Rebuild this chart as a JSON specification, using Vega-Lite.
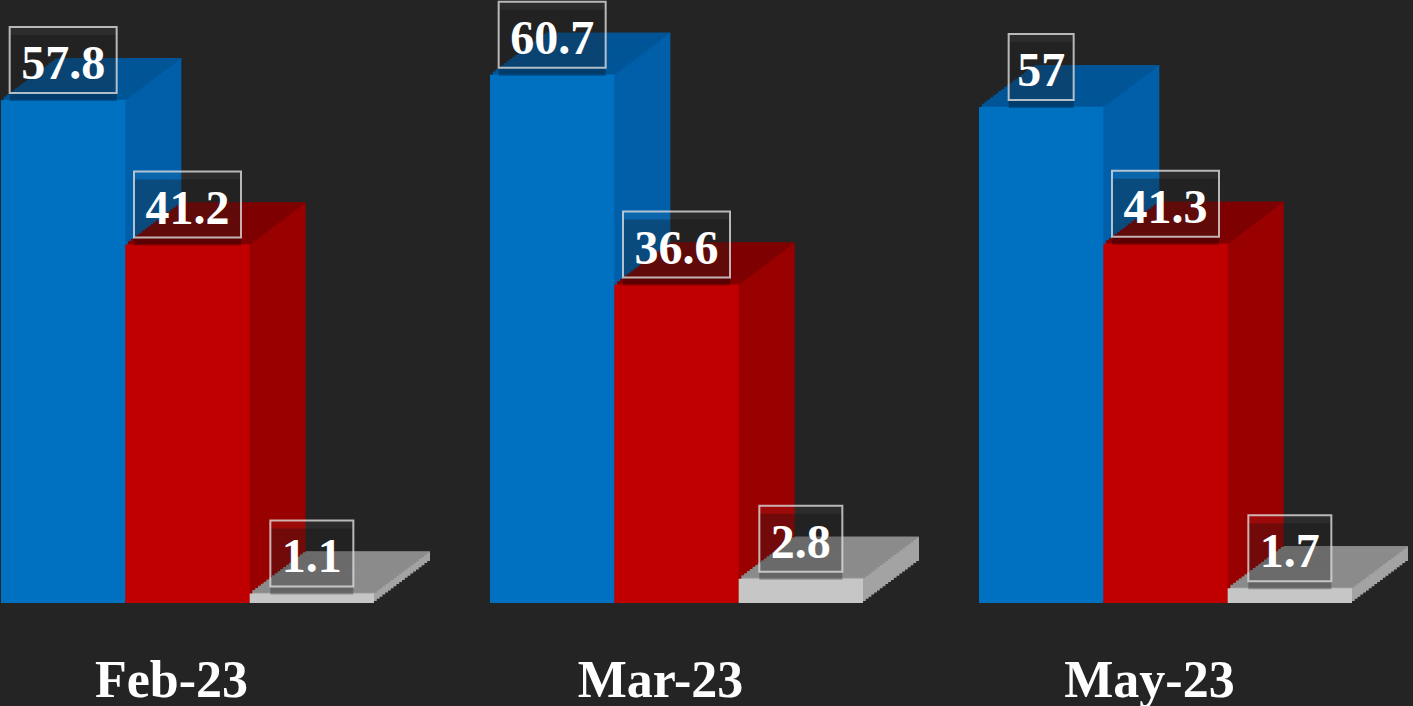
{
  "$schema": "https://vega.github.io/schema/vega-lite/v6.json",
  "width": 1413,
  "height": 603,
  "autosize": {"type": "none"},
  "padding": {"left": 0, "right": 0, "top": 0, "bottom": 103},
  "background": "#242424",
  "config": {"view": {"stroke": null}},
  "data": {
    "values": [
      {"month": "Feb-23", "series": "Series 1", "value": 57.8},
      {"month": "Feb-23", "series": "Series 2", "value": 41.2},
      {"month": "Feb-23", "series": "Series 3", "value": 1.1},
      {"month": "Mar-23", "series": "Series 1", "value": 60.7},
      {"month": "Mar-23", "series": "Series 2", "value": 36.6},
      {"month": "Mar-23", "series": "Series 3", "value": 2.8},
      {"month": "May-23", "series": "Series 1", "value": 57},
      {"month": "May-23", "series": "Series 2", "value": 41.3},
      {"month": "May-23", "series": "Series 3", "value": 1.7}
    ]
  },
  "encoding": {
    "x": {"field": "month", "type": "nominal", "scale": {"range": [1, 1352], "paddingInner": 0.2372, "paddingOuter": 0}, "axis": {"title": null, "domain": false, "ticks": false, "grid": false, "labelAngle": 0, "labelFont": "Liberation Serif", "labelFontSize": 52, "labelFontWeight": "bold", "labelColor": "#ffffff", "labelPadding": 93, "labelBaseline": "alphabetic", "labelOffset": -16}},
    "xOffset": {"field": "series", "type": "nominal", "scale": {"paddingInner": 0, "paddingOuter": 0}},
    "y": {"field": "value", "type": "quantitative", "scale": {"domain": [0, 69.3], "nice": false}, "axis": null}
  },
  "resolve": {"scale": {"color": "independent", "xOffset": "independent"}},
  "layer": [
    {"mark": {"type": "bar", "yOffset": -42, "y2Offset": -42}, "encoding": {"xOffset": {"field": "series", "type": "nominal", "scale": {"range": [56, 429], "paddingInner": 0, "paddingOuter": 0}}, "color": {"field": "series", "type": "nominal", "scale": {"range": ["#005fa8", "#990000", "#a3a3a3"]}, "legend": null}}},
    {"mark": {"type": "bar", "yOffset": -39.9, "y2Offset": -39.9}, "encoding": {"xOffset": {"field": "series", "type": "nominal", "scale": {"range": [53.2, 426.2], "paddingInner": 0, "paddingOuter": 0}}, "color": {"field": "series", "type": "nominal", "scale": {"range": ["#005fa8", "#990000", "#a3a3a3"]}, "legend": null}}},
    {"mark": {"type": "bar", "yOffset": -37.8, "y2Offset": -37.8}, "encoding": {"xOffset": {"field": "series", "type": "nominal", "scale": {"range": [50.4, 423.4], "paddingInner": 0, "paddingOuter": 0}}, "color": {"field": "series", "type": "nominal", "scale": {"range": ["#005fa8", "#990000", "#a3a3a3"]}, "legend": null}}},
    {"mark": {"type": "bar", "yOffset": -35.7, "y2Offset": -35.7}, "encoding": {"xOffset": {"field": "series", "type": "nominal", "scale": {"range": [47.6, 420.6], "paddingInner": 0, "paddingOuter": 0}}, "color": {"field": "series", "type": "nominal", "scale": {"range": ["#005fa8", "#990000", "#a3a3a3"]}, "legend": null}}},
    {"mark": {"type": "bar", "yOffset": -33.6, "y2Offset": -33.6}, "encoding": {"xOffset": {"field": "series", "type": "nominal", "scale": {"range": [44.8, 417.8], "paddingInner": 0, "paddingOuter": 0}}, "color": {"field": "series", "type": "nominal", "scale": {"range": ["#005fa8", "#990000", "#a3a3a3"]}, "legend": null}}},
    {"mark": {"type": "bar", "yOffset": -31.5, "y2Offset": -31.5}, "encoding": {"xOffset": {"field": "series", "type": "nominal", "scale": {"range": [42, 415], "paddingInner": 0, "paddingOuter": 0}}, "color": {"field": "series", "type": "nominal", "scale": {"range": ["#005fa8", "#990000", "#a3a3a3"]}, "legend": null}}},
    {"mark": {"type": "bar", "yOffset": -29.4, "y2Offset": -29.4}, "encoding": {"xOffset": {"field": "series", "type": "nominal", "scale": {"range": [39.2, 412.2], "paddingInner": 0, "paddingOuter": 0}}, "color": {"field": "series", "type": "nominal", "scale": {"range": ["#005fa8", "#990000", "#a3a3a3"]}, "legend": null}}},
    {"mark": {"type": "bar", "yOffset": -27.3, "y2Offset": -27.3}, "encoding": {"xOffset": {"field": "series", "type": "nominal", "scale": {"range": [36.4, 409.4], "paddingInner": 0, "paddingOuter": 0}}, "color": {"field": "series", "type": "nominal", "scale": {"range": ["#005fa8", "#990000", "#a3a3a3"]}, "legend": null}}},
    {"mark": {"type": "bar", "yOffset": -25.2, "y2Offset": -25.2}, "encoding": {"xOffset": {"field": "series", "type": "nominal", "scale": {"range": [33.6, 406.6], "paddingInner": 0, "paddingOuter": 0}}, "color": {"field": "series", "type": "nominal", "scale": {"range": ["#005fa8", "#990000", "#a3a3a3"]}, "legend": null}}},
    {"mark": {"type": "bar", "yOffset": -23.1, "y2Offset": -23.1}, "encoding": {"xOffset": {"field": "series", "type": "nominal", "scale": {"range": [30.8, 403.8], "paddingInner": 0, "paddingOuter": 0}}, "color": {"field": "series", "type": "nominal", "scale": {"range": ["#005fa8", "#990000", "#a3a3a3"]}, "legend": null}}},
    {"mark": {"type": "bar", "yOffset": -21, "y2Offset": -21}, "encoding": {"xOffset": {"field": "series", "type": "nominal", "scale": {"range": [28, 401], "paddingInner": 0, "paddingOuter": 0}}, "color": {"field": "series", "type": "nominal", "scale": {"range": ["#005fa8", "#990000", "#a3a3a3"]}, "legend": null}}},
    {"mark": {"type": "bar", "yOffset": -18.9, "y2Offset": -18.9}, "encoding": {"xOffset": {"field": "series", "type": "nominal", "scale": {"range": [25.2, 398.2], "paddingInner": 0, "paddingOuter": 0}}, "color": {"field": "series", "type": "nominal", "scale": {"range": ["#005fa8", "#990000", "#a3a3a3"]}, "legend": null}}},
    {"mark": {"type": "bar", "yOffset": -16.8, "y2Offset": -16.8}, "encoding": {"xOffset": {"field": "series", "type": "nominal", "scale": {"range": [22.4, 395.4], "paddingInner": 0, "paddingOuter": 0}}, "color": {"field": "series", "type": "nominal", "scale": {"range": ["#005fa8", "#990000", "#a3a3a3"]}, "legend": null}}},
    {"mark": {"type": "bar", "yOffset": -14.7, "y2Offset": -14.7}, "encoding": {"xOffset": {"field": "series", "type": "nominal", "scale": {"range": [19.6, 392.6], "paddingInner": 0, "paddingOuter": 0}}, "color": {"field": "series", "type": "nominal", "scale": {"range": ["#005fa8", "#990000", "#a3a3a3"]}, "legend": null}}},
    {"mark": {"type": "bar", "yOffset": -12.6, "y2Offset": -12.6}, "encoding": {"xOffset": {"field": "series", "type": "nominal", "scale": {"range": [16.8, 389.8], "paddingInner": 0, "paddingOuter": 0}}, "color": {"field": "series", "type": "nominal", "scale": {"range": ["#005fa8", "#990000", "#a3a3a3"]}, "legend": null}}},
    {"mark": {"type": "bar", "yOffset": -10.5, "y2Offset": -10.5}, "encoding": {"xOffset": {"field": "series", "type": "nominal", "scale": {"range": [14, 387], "paddingInner": 0, "paddingOuter": 0}}, "color": {"field": "series", "type": "nominal", "scale": {"range": ["#005fa8", "#990000", "#a3a3a3"]}, "legend": null}}},
    {"mark": {"type": "bar", "yOffset": -8.4, "y2Offset": -8.4}, "encoding": {"xOffset": {"field": "series", "type": "nominal", "scale": {"range": [11.2, 384.2], "paddingInner": 0, "paddingOuter": 0}}, "color": {"field": "series", "type": "nominal", "scale": {"range": ["#005fa8", "#990000", "#a3a3a3"]}, "legend": null}}},
    {"mark": {"type": "bar", "yOffset": -6.3, "y2Offset": -6.3}, "encoding": {"xOffset": {"field": "series", "type": "nominal", "scale": {"range": [8.4, 381.4], "paddingInner": 0, "paddingOuter": 0}}, "color": {"field": "series", "type": "nominal", "scale": {"range": ["#005fa8", "#990000", "#a3a3a3"]}, "legend": null}}},
    {"mark": {"type": "bar", "yOffset": -4.2, "y2Offset": -4.2}, "encoding": {"xOffset": {"field": "series", "type": "nominal", "scale": {"range": [5.6, 378.6], "paddingInner": 0, "paddingOuter": 0}}, "color": {"field": "series", "type": "nominal", "scale": {"range": ["#005fa8", "#990000", "#a3a3a3"]}, "legend": null}}},
    {"mark": {"type": "bar", "yOffset": -2.1, "y2Offset": -2.1}, "encoding": {"xOffset": {"field": "series", "type": "nominal", "scale": {"range": [2.8, 375.8], "paddingInner": 0, "paddingOuter": 0}}, "color": {"field": "series", "type": "nominal", "scale": {"range": ["#005fa8", "#990000", "#a3a3a3"]}, "legend": null}}},

    {"mark": {"type": "bar", "yOffset": -3.4, "y2Offset": -0.8}, "encoding": {"y2": {"field": "value"}, "xOffset": {"field": "series", "type": "nominal", "scale": {"range": [2.8, 375.8], "paddingInner": 0, "paddingOuter": 0}}, "color": {"field": "series", "type": "nominal", "scale": {"range": ["#005597", "#7e0000", "#8b8b8b"]}, "legend": null}}},
    {"mark": {"type": "bar", "yOffset": -5.5, "y2Offset": -2.9}, "encoding": {"y2": {"field": "value"}, "xOffset": {"field": "series", "type": "nominal", "scale": {"range": [5.6, 378.6], "paddingInner": 0, "paddingOuter": 0}}, "color": {"field": "series", "type": "nominal", "scale": {"range": ["#005597", "#7e0000", "#8b8b8b"]}, "legend": null}}},
    {"mark": {"type": "bar", "yOffset": -7.6, "y2Offset": -5}, "encoding": {"y2": {"field": "value"}, "xOffset": {"field": "series", "type": "nominal", "scale": {"range": [8.4, 381.4], "paddingInner": 0, "paddingOuter": 0}}, "color": {"field": "series", "type": "nominal", "scale": {"range": ["#005597", "#7e0000", "#8b8b8b"]}, "legend": null}}},
    {"mark": {"type": "bar", "yOffset": -9.7, "y2Offset": -7.1}, "encoding": {"y2": {"field": "value"}, "xOffset": {"field": "series", "type": "nominal", "scale": {"range": [11.2, 384.2], "paddingInner": 0, "paddingOuter": 0}}, "color": {"field": "series", "type": "nominal", "scale": {"range": ["#005597", "#7e0000", "#8b8b8b"]}, "legend": null}}},
    {"mark": {"type": "bar", "yOffset": -11.8, "y2Offset": -9.2}, "encoding": {"y2": {"field": "value"}, "xOffset": {"field": "series", "type": "nominal", "scale": {"range": [14, 387], "paddingInner": 0, "paddingOuter": 0}}, "color": {"field": "series", "type": "nominal", "scale": {"range": ["#005597", "#7e0000", "#8b8b8b"]}, "legend": null}}},
    {"mark": {"type": "bar", "yOffset": -13.9, "y2Offset": -11.3}, "encoding": {"y2": {"field": "value"}, "xOffset": {"field": "series", "type": "nominal", "scale": {"range": [16.8, 389.8], "paddingInner": 0, "paddingOuter": 0}}, "color": {"field": "series", "type": "nominal", "scale": {"range": ["#005597", "#7e0000", "#8b8b8b"]}, "legend": null}}},
    {"mark": {"type": "bar", "yOffset": -16, "y2Offset": -13.4}, "encoding": {"y2": {"field": "value"}, "xOffset": {"field": "series", "type": "nominal", "scale": {"range": [19.6, 392.6], "paddingInner": 0, "paddingOuter": 0}}, "color": {"field": "series", "type": "nominal", "scale": {"range": ["#005597", "#7e0000", "#8b8b8b"]}, "legend": null}}},
    {"mark": {"type": "bar", "yOffset": -18.1, "y2Offset": -15.5}, "encoding": {"y2": {"field": "value"}, "xOffset": {"field": "series", "type": "nominal", "scale": {"range": [22.4, 395.4], "paddingInner": 0, "paddingOuter": 0}}, "color": {"field": "series", "type": "nominal", "scale": {"range": ["#005597", "#7e0000", "#8b8b8b"]}, "legend": null}}},
    {"mark": {"type": "bar", "yOffset": -20.2, "y2Offset": -17.6}, "encoding": {"y2": {"field": "value"}, "xOffset": {"field": "series", "type": "nominal", "scale": {"range": [25.2, 398.2], "paddingInner": 0, "paddingOuter": 0}}, "color": {"field": "series", "type": "nominal", "scale": {"range": ["#005597", "#7e0000", "#8b8b8b"]}, "legend": null}}},
    {"mark": {"type": "bar", "yOffset": -22.3, "y2Offset": -19.7}, "encoding": {"y2": {"field": "value"}, "xOffset": {"field": "series", "type": "nominal", "scale": {"range": [28, 401], "paddingInner": 0, "paddingOuter": 0}}, "color": {"field": "series", "type": "nominal", "scale": {"range": ["#005597", "#7e0000", "#8b8b8b"]}, "legend": null}}},
    {"mark": {"type": "bar", "yOffset": -24.4, "y2Offset": -21.8}, "encoding": {"y2": {"field": "value"}, "xOffset": {"field": "series", "type": "nominal", "scale": {"range": [30.8, 403.8], "paddingInner": 0, "paddingOuter": 0}}, "color": {"field": "series", "type": "nominal", "scale": {"range": ["#005597", "#7e0000", "#8b8b8b"]}, "legend": null}}},
    {"mark": {"type": "bar", "yOffset": -26.5, "y2Offset": -23.9}, "encoding": {"y2": {"field": "value"}, "xOffset": {"field": "series", "type": "nominal", "scale": {"range": [33.6, 406.6], "paddingInner": 0, "paddingOuter": 0}}, "color": {"field": "series", "type": "nominal", "scale": {"range": ["#005597", "#7e0000", "#8b8b8b"]}, "legend": null}}},
    {"mark": {"type": "bar", "yOffset": -28.6, "y2Offset": -26}, "encoding": {"y2": {"field": "value"}, "xOffset": {"field": "series", "type": "nominal", "scale": {"range": [36.4, 409.4], "paddingInner": 0, "paddingOuter": 0}}, "color": {"field": "series", "type": "nominal", "scale": {"range": ["#005597", "#7e0000", "#8b8b8b"]}, "legend": null}}},
    {"mark": {"type": "bar", "yOffset": -30.7, "y2Offset": -28.1}, "encoding": {"y2": {"field": "value"}, "xOffset": {"field": "series", "type": "nominal", "scale": {"range": [39.2, 412.2], "paddingInner": 0, "paddingOuter": 0}}, "color": {"field": "series", "type": "nominal", "scale": {"range": ["#005597", "#7e0000", "#8b8b8b"]}, "legend": null}}},
    {"mark": {"type": "bar", "yOffset": -32.8, "y2Offset": -30.2}, "encoding": {"y2": {"field": "value"}, "xOffset": {"field": "series", "type": "nominal", "scale": {"range": [42, 415], "paddingInner": 0, "paddingOuter": 0}}, "color": {"field": "series", "type": "nominal", "scale": {"range": ["#005597", "#7e0000", "#8b8b8b"]}, "legend": null}}},
    {"mark": {"type": "bar", "yOffset": -34.9, "y2Offset": -32.3}, "encoding": {"y2": {"field": "value"}, "xOffset": {"field": "series", "type": "nominal", "scale": {"range": [44.8, 417.8], "paddingInner": 0, "paddingOuter": 0}}, "color": {"field": "series", "type": "nominal", "scale": {"range": ["#005597", "#7e0000", "#8b8b8b"]}, "legend": null}}},
    {"mark": {"type": "bar", "yOffset": -37, "y2Offset": -34.4}, "encoding": {"y2": {"field": "value"}, "xOffset": {"field": "series", "type": "nominal", "scale": {"range": [47.6, 420.6], "paddingInner": 0, "paddingOuter": 0}}, "color": {"field": "series", "type": "nominal", "scale": {"range": ["#005597", "#7e0000", "#8b8b8b"]}, "legend": null}}},
    {"mark": {"type": "bar", "yOffset": -39.1, "y2Offset": -36.5}, "encoding": {"y2": {"field": "value"}, "xOffset": {"field": "series", "type": "nominal", "scale": {"range": [50.4, 423.4], "paddingInner": 0, "paddingOuter": 0}}, "color": {"field": "series", "type": "nominal", "scale": {"range": ["#005597", "#7e0000", "#8b8b8b"]}, "legend": null}}},
    {"mark": {"type": "bar", "yOffset": -41.2, "y2Offset": -38.6}, "encoding": {"y2": {"field": "value"}, "xOffset": {"field": "series", "type": "nominal", "scale": {"range": [53.2, 426.2], "paddingInner": 0, "paddingOuter": 0}}, "color": {"field": "series", "type": "nominal", "scale": {"range": ["#005597", "#7e0000", "#8b8b8b"]}, "legend": null}}},
    {"mark": {"type": "bar", "yOffset": -42, "y2Offset": -40.7}, "encoding": {"y2": {"field": "value"}, "xOffset": {"field": "series", "type": "nominal", "scale": {"range": [56, 429], "paddingInner": 0, "paddingOuter": 0}}, "color": {"field": "series", "type": "nominal", "scale": {"range": ["#005597", "#7e0000", "#8b8b8b"]}, "legend": null}}},

    {"mark": {"type": "bar"}, "encoding": {"color": {"field": "series", "type": "nominal", "scale": {"range": ["#0070c0", "#c00000", "#c6c6c6"]}, "legend": null}}},

    {"mark": {"type": "point", "filled": true, "opacity": 1, "size": 10000, "fill": "#000000", "fillOpacity": 0.28, "strokeWidth": 0, "xOffset": 5, "yOffset": -32},
     "encoding": {"xOffset": {"field": "series", "type": "nominal", "scale": {"type": "point", "padding": 0.5}}, "shape": {"field": "value", "type": "nominal", "legend": null, "scale": {"domain": [57.8, 41.2, 1.1, 60.7, 36.6, 2.8, 57, 41.3, 1.7], "range": ["M-1.07,-0.66H1.07V0.66H-1.07Z", "M-1.07,-0.66H1.07V0.66H-1.07Z", "M-0.83,-0.66H0.83V0.66H-0.83Z", "M-1.07,-0.66H1.07V0.66H-1.07Z", "M-1.07,-0.66H1.07V0.66H-1.07Z", "M-0.83,-0.66H0.83V0.66H-0.83Z", "M-0.65,-0.66H0.65V0.66H-0.65Z", "M-1.07,-0.66H1.07V0.66H-1.07Z", "M-0.83,-0.66H0.83V0.66H-0.83Z"]}}}},
    {"mark": {"type": "point", "filled": true, "opacity": 1, "size": 10000, "fill": "#ffffff", "fillOpacity": 0.04, "stroke": "#dddddd", "strokeOpacity": 0.8, "strokeWidth": 2, "yOffset": -40},
     "encoding": {"xOffset": {"field": "series", "type": "nominal", "scale": {"type": "point", "padding": 0.5}}, "shape": {"field": "value", "type": "nominal", "legend": null, "scale": {"domain": [57.8, 41.2, 1.1, 60.7, 36.6, 2.8, 57, 41.3, 1.7], "range": ["M-1.07,-0.66H1.07V0.66H-1.07Z", "M-1.07,-0.66H1.07V0.66H-1.07Z", "M-0.83,-0.66H0.83V0.66H-0.83Z", "M-1.07,-0.66H1.07V0.66H-1.07Z", "M-1.07,-0.66H1.07V0.66H-1.07Z", "M-0.83,-0.66H0.83V0.66H-0.83Z", "M-0.65,-0.66H0.65V0.66H-0.65Z", "M-1.07,-0.66H1.07V0.66H-1.07Z", "M-0.83,-0.66H0.83V0.66H-0.83Z"]}}}},
    {"mark": {"type": "text", "font": "Liberation Serif", "fontSize": 48, "fontWeight": "bold", "color": "#ffffff", "align": "center", "baseline": "alphabetic", "yOffset": -21},
     "encoding": {"xOffset": {"field": "series", "type": "nominal", "scale": {"type": "point", "padding": 0.5}}, "text": {"field": "value", "type": "nominal"}}}
  ]
}
